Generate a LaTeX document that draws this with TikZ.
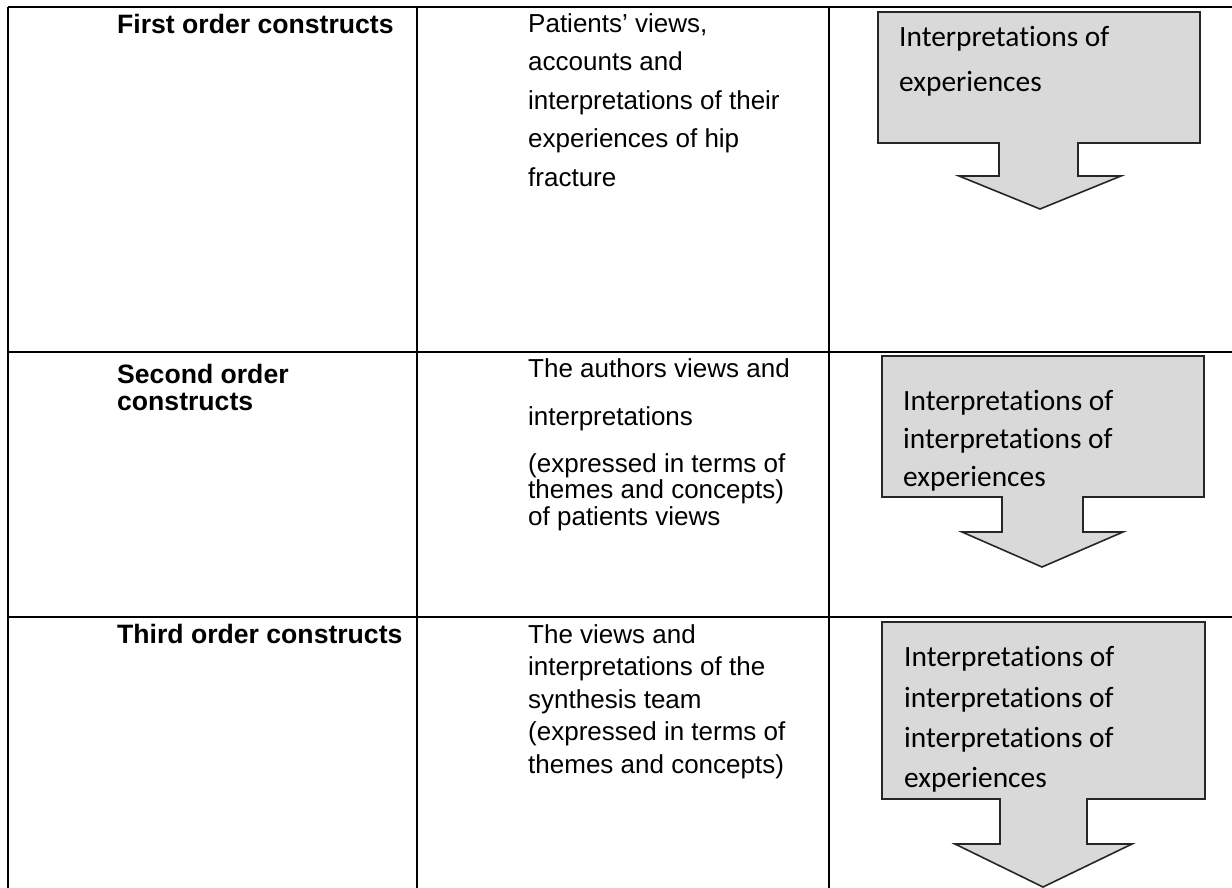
\documentclass[tikz,border=0pt]{standalone}
\usepackage{fontspec}
\setmainfont{Liberation Sans}
\newfontfamily\calfont[Ligatures=NoCommon]{Carlito}
\definecolor{arrowgray}{HTML}{D9D9D9}
\newcommand\interp{nterpretat\kern0pt ions of}
\begin{document}
\begin{tikzpicture}[x=1bp,y=-1bp,
  tbl/.style={line width=2.6bp, black},
  arr/.style={fill=arrowgray, draw=black!85, line width=1.6bp, line join=miter},
  hd/.style={anchor=base west, inner sep=0, font=\fontsize{26.7}{30}\selectfont\bfseries},
  body/.style={anchor=base west, inner sep=0, font=\fontsize{26.1}{30}\selectfont},
  atext/.style={anchor=base west, inner sep=0, font=\calfont\fontsize{29.5}{34}\selectfont}]
\useasboundingbox (0,0) rectangle (1232,888);

% table grid
\coordinate (tl) at (8,7);
\coordinate (tr) at (1232,7);
\coordinate (bl) at (8,888);
\coordinate (c1t) at (417,7);
\coordinate (c1b) at (417,888);
\coordinate (c2t) at (829,7);
\coordinate (c2b) at (829,888);
\coordinate (r1l) at (8,352);
\coordinate (r1r) at (1232,352);
\coordinate (r2l) at (8,617);
\coordinate (r2r) at (1232,617);
\draw[tbl] (tl) -- (tr);
\draw[tbl] (tl) -- (bl);
\draw[tbl] (c1t) -- (c1b);
\draw[tbl] (c2t) -- (c2b);
\draw[tbl] (r1l) -- (r1r);
\draw[tbl] (r2l) -- (r2r);

% arrows
\draw[arr] (878,12) -- (1200,12) -- (1200,143) -- (1078,143) -- (1078,176) -- (1121,176)
  -- (1040,209) -- (959,176) -- (999,176) -- (999,143) -- (878,143) -- cycle;
\draw[arr] (882,356) -- (1204,356) -- (1204,497) -- (1083,497) -- (1083,532) -- (1123,532)
  -- (1042,567) -- (962,532) -- (1002,532) -- (1002,497) -- (882,497) -- cycle;
\draw[arr] (882,622) -- (1205,622) -- (1205,799) -- (1087,799) -- (1087,844) -- (1132,844)
  -- (1043,887) -- (955,844) -- (1000,844) -- (1000,799) -- (882,799) -- cycle;

% first column
\node[hd] (h1) at (117,33) {First order constructs};
\node[hd] (h2a) at (117,383) {Second order};
\node[hd] (h2b) at (117,410) {constructs};
\node[hd] (h3) at (117,643) {Third order constructs};

% second column
\node[body] (b1a) at (528,32) {Patients’ views,};
\node[body] (b1b) at (528,70.5) {accounts and};
\node[body] (b1c) at (528,109) {interpretations of their};
\node[body] (b1d) at (528,147.5) {experiences of hip};
\node[body] (b1e) at (528,186) {fracture};

\node[body] (b2a) at (528,377) {The authors views and};
\node[body] (b2b) at (528,425) {interpretations};
\node[body] (b2c) at (528,472) {(expressed in terms of};
\node[body] (b2d) at (528,498.5) {themes and concepts)};
\node[body] (b2e) at (528,525) {of patients views};

\node[body] (b3a) at (528,643) {The views and};
\node[body] (b3b) at (528,675.5) {interpretations of the};
\node[body] (b3c) at (528,708) {synthesis team};
\node[body] (b3d) at (528,740.5) {(expressed in terms of};
\node[body] (b3e) at (528,773) {themes and concepts)};

% arrow texts
\node[atext] (a1a) at (899,46) {I\interp};
\node[atext] (a1b) at (899,91) {experiences};

\node[atext] (a2a) at (903,410) {I\interp};
\node[atext] (a2b) at (903,448) {i\interp};
\node[atext] (a2c) at (903,486) {experiences};

\node[atext] (a3a) at (904,666) {I\interp};
\node[atext] (a3b) at (904,707) {i\interp};
\node[atext] (a3c) at (904,747) {i\interp};
\node[atext] (a3d) at (904,787) {experiences};
\end{tikzpicture}
\end{document}
